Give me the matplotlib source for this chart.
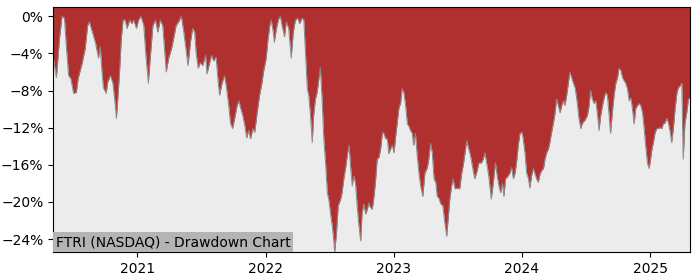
import pandas as pd
import matplotlib
matplotlib.use("Agg")
import matplotlib.pyplot as plt
import matplotlib.ticker as mtick
import matplotlib.dates as mdates

ticker_label = "FTRI (NASDAQ) - Drawdown Chart"

# drawdown from running peak, in percent
dates = [
    "2020-05-06", "2020-05-15", "2020-05-24", "2020-05-31", "2020-06-07", "2020-06-12",
    "2020-06-19", "2020-06-25", "2020-07-03", "2020-07-11", "2020-07-16", "2020-07-27",
    "2020-08-05", "2020-08-12", "2020-08-17", "2020-08-24", "2020-09-03", "2020-09-12",
    "2020-09-17", "2020-09-22", "2020-09-26", "2020-10-04", "2020-10-08", "2020-10-16",
    "2020-10-23", "2020-10-28", "2020-11-02", "2020-11-06", "2020-11-11", "2020-11-16",
    "2020-11-21", "2020-11-27", "2020-12-02", "2020-12-10", "2020-12-16", "2020-12-21",
    "2020-12-29",
    "2021-01-04", "2021-01-11", "2021-01-19", "2021-01-25", "2021-02-01", "2021-02-07",
    "2021-02-14", "2021-02-21", "2021-02-28", "2021-03-07", "2021-03-14", "2021-03-19",
    "2021-03-24", "2021-03-31", "2021-04-08", "2021-04-14", "2021-04-21", "2021-04-28",
    "2021-05-06", "2021-05-13", "2021-05-19", "2021-05-25", "2021-06-01", "2021-06-07",
    "2021-06-13", "2021-06-17", "2021-06-23", "2021-06-29", "2021-07-06", "2021-07-14",
    "2021-07-18", "2021-07-25", "2021-07-31", "2021-08-06", "2021-08-13", "2021-08-19",
    "2021-08-23", "2021-08-30", "2021-09-06", "2021-09-11", "2021-09-18", "2021-09-23",
    "2021-09-29", "2021-10-05", "2021-10-12", "2021-10-17", "2021-10-22", "2021-10-28",
    "2021-11-03", "2021-11-08", "2021-11-14", "2021-11-19", "2021-11-26", "2021-12-01",
    "2021-12-08", "2021-12-15", "2021-12-22", "2021-12-26",
    "2022-01-03", "2022-01-07", "2022-01-13", "2022-01-17", "2022-01-23", "2022-01-26",
    "2022-02-01", "2022-02-07", "2022-02-12", "2022-02-17", "2022-02-24", "2022-03-01",
    "2022-03-08", "2022-03-15", "2022-03-21", "2022-03-27", "2022-04-03", "2022-04-08",
    "2022-04-15", "2022-04-20", "2022-04-25", "2022-04-30", "2022-05-04", "2022-05-09",
    "2022-05-14", "2022-05-18", "2022-05-23", "2022-05-28", "2022-06-02", "2022-06-06",
    "2022-06-11", "2022-06-16", "2022-06-21", "2022-06-26", "2022-06-30", "2022-07-05",
    "2022-07-10", "2022-07-14", "2022-07-17", "2022-07-22", "2022-07-27", "2022-08-03",
    "2022-08-07", "2022-08-12", "2022-08-18", "2022-08-23", "2022-08-27", "2022-08-31",
    "2022-09-05", "2022-09-09", "2022-09-14", "2022-09-19", "2022-09-24", "2022-09-29",
    "2022-10-03", "2022-10-08", "2022-10-13", "2022-10-18", "2022-10-22", "2022-10-27",
    "2022-11-01", "2022-11-06", "2022-11-10", "2022-11-15", "2022-11-20", "2022-11-25",
    "2022-11-30", "2022-12-04", "2022-12-09", "2022-12-14", "2022-12-18", "2022-12-23",
    "2022-12-28",
    "2023-01-02", "2023-01-06", "2023-01-11", "2023-01-16", "2023-01-21", "2023-01-25",
    "2023-01-30", "2023-02-04", "2023-02-09", "2023-02-13", "2023-02-18", "2023-02-23",
    "2023-02-27", "2023-03-04", "2023-03-09", "2023-03-14", "2023-03-19", "2023-03-25",
    "2023-03-31", "2023-04-07", "2023-04-11", "2023-04-16", "2023-04-21", "2023-04-26",
    "2023-05-01", "2023-05-05", "2023-05-10", "2023-05-15", "2023-05-21", "2023-05-27",
    "2023-06-01", "2023-06-06", "2023-06-10", "2023-06-15", "2023-06-19", "2023-06-25",
    "2023-07-01", "2023-07-08", "2023-07-14", "2023-07-18", "2023-07-23", "2023-07-28",
    "2023-08-03", "2023-08-08", "2023-08-13", "2023-08-20", "2023-08-25", "2023-09-01",
    "2023-09-08", "2023-09-13", "2023-09-18", "2023-09-23", "2023-09-29", "2023-10-06",
    "2023-10-12", "2023-10-18", "2023-10-23", "2023-10-28", "2023-11-02", "2023-11-07",
    "2023-11-11", "2023-11-16", "2023-11-23", "2023-11-28", "2023-12-03", "2023-12-08",
    "2023-12-13", "2023-12-17", "2023-12-22", "2023-12-27",
    "2024-01-02", "2024-01-05", "2024-01-10", "2024-01-15", "2024-01-20", "2024-01-24",
    "2024-01-29", "2024-02-03", "2024-02-07", "2024-02-12", "2024-02-17", "2024-02-22",
    "2024-02-27", "2024-03-03", "2024-03-07", "2024-03-12", "2024-03-17", "2024-03-21",
    "2024-03-26", "2024-03-31", "2024-04-05", "2024-04-09", "2024-04-14", "2024-04-19",
    "2024-04-24", "2024-04-29", "2024-05-03", "2024-05-08", "2024-05-13", "2024-05-17",
    "2024-05-22", "2024-05-27", "2024-06-01", "2024-06-07", "2024-06-12", "2024-06-17",
    "2024-06-22", "2024-06-29", "2024-07-06", "2024-07-11", "2024-07-15", "2024-07-20",
    "2024-07-25", "2024-07-30", "2024-08-04", "2024-08-08", "2024-08-13", "2024-08-18",
    "2024-08-22", "2024-08-27", "2024-09-01", "2024-09-06", "2024-09-10", "2024-09-15",
    "2024-09-20", "2024-09-25", "2024-09-30", "2024-10-04", "2024-10-09", "2024-10-14",
    "2024-10-18", "2024-10-23", "2024-10-28", "2024-11-02", "2024-11-07", "2024-11-11",
    "2024-11-16", "2024-11-21", "2024-11-26", "2024-11-30", "2024-12-05", "2024-12-10",
    "2024-12-14", "2024-12-19", "2024-12-24", "2024-12-29",
    "2025-01-02", "2025-01-06", "2025-01-10", "2025-01-15", "2025-01-20", "2025-01-24",
    "2025-01-29", "2025-02-03", "2025-02-07", "2025-02-12", "2025-02-17", "2025-02-22",
    "2025-02-27", "2025-03-03", "2025-03-08", "2025-03-13", "2025-03-18", "2025-03-22",
    "2025-03-27", "2025-04-01", "2025-04-05", "2025-04-10", "2025-04-15", "2025-04-20",
    "2025-04-25",
]

drawdown = [
    -4.4, -6.6, -2.4, 0.0, -0.2, -3.1,
    -6.4, -6.7, -8.3, -8.2, -6.7, -5.1,
    -3.5, -1.0, -0.6, -1.5, -2.8, -4.5,
    -3.3, -6.0, -7.7, -8.3, -7.1, -6.4,
    -7.2, -8.9, -11.0, -8.9, -6.0, -2.4,
    -0.4, -0.4, -1.3, -0.4, -0.8, -0.4,
    -1.3,
    -0.4, 0.0, -1.0, -4.2, -7.2, -4.2,
    -1.0, -0.4, -1.7, -0.4, -1.0, -3.5,
    -6.0, -4.5, -3.5, -2.4, -1.0, -0.6,
    0.0, -1.7, -3.5, -5.3, -2.8, -1.3,
    -1.7, -3.9, -5.6, -5.0, -5.3, -4.2,
    -6.2, -5.1, -4.2, -4.8, -4.4, -7.1,
    -8.5, -7.2, -6.4, -7.5, -9.6, -11.5,
    -12.1, -11.0, -9.6, -9.1, -9.9, -10.7,
    -11.8, -13.1, -12.3, -13.2, -12.1, -12.5,
    -10.4, -8.5, -7.1, -6.0,
    -4.5, -2.8, -1.0, -0.4, -1.7, -2.8,
    -1.3, -0.3, 0.0, -1.0, -2.2, -0.6,
    -1.3, -4.5, -1.7, -0.4, -0.2, -0.8,
    -0.2, -0.4, -4.2, -7.8, -8.5, -10.7,
    -13.6, -10.7, -8.9, -8.2, -6.7, -5.5,
    -8.9, -13.2, -15.8, -19.0, -19.7, -21.2,
    -22.6, -24.0, -25.4, -23.4, -20.4, -19.7,
    -19.0, -17.5, -16.1, -14.7, -13.9, -16.1,
    -18.3, -17.2, -17.9, -20.4, -22.6, -24.2,
    -21.2, -20.2, -21.3, -20.8, -20.1, -20.6,
    -20.8, -19.4, -17.9, -15.4, -15.2, -14.3,
    -12.5, -12.6, -13.2, -13.2, -14.8, -14.3,
    -13.9,
    -14.7, -13.2, -11.5, -9.9, -9.3, -7.8,
    -8.2, -9.6, -11.6, -11.8, -12.3, -12.6,
    -13.9, -12.6, -15.0, -16.9, -18.3, -19.4,
    -16.9, -16.3, -15.4, -13.7, -14.7, -17.5,
    -17.9, -19.4, -19.6, -20.2, -20.4, -22.3,
    -23.7, -21.5, -19.7, -18.3, -17.5, -18.6,
    -18.5, -18.6, -16.9, -16.1, -14.8, -13.4,
    -14.3, -15.0, -16.1, -17.5, -16.9, -15.8,
    -15.8, -15.4, -14.7, -15.8, -17.2, -19.7,
    -17.9, -15.8, -17.2, -18.3, -19.0, -18.0,
    -19.4, -17.5, -17.2, -16.9, -16.3, -17.5,
    -16.9, -15.8, -13.9, -12.6,
    -12.5, -13.2, -14.7, -16.9, -17.5, -18.5,
    -17.2, -16.4, -16.9, -17.5, -17.9, -17.0,
    -16.6, -16.4, -15.4, -14.7, -14.3, -13.6,
    -12.5, -11.5, -10.4, -8.9, -9.6, -10.4,
    -9.6, -9.1, -9.6, -8.5, -7.1, -6.0,
    -6.6, -7.2, -7.7, -9.3, -11.0, -12.1,
    -11.5, -11.2, -10.7, -9.6, -8.0, -8.9,
    -9.4, -9.1, -10.7, -12.3, -10.7, -9.6,
    -8.9, -8.2, -8.5, -10.7, -12.6, -10.4,
    -8.5, -7.2, -6.6, -5.6, -5.8, -6.6,
    -6.9, -7.2, -7.8, -9.1, -8.8, -9.9,
    -11.6, -9.9, -9.6, -9.4, -9.6, -10.4,
    -11.8, -13.9, -15.8, -16.4,
    -15.4, -14.3, -13.6, -12.5, -12.1, -12.1,
    -12.0, -12.1, -11.6, -11.5, -11.0, -11.5,
    -12.5, -13.6, -12.1, -9.9, -8.3, -7.7,
    -7.5, -7.2, -15.4, -11.5, -10.4, -8.9,
    -8.8,
]

x = pd.to_datetime(dates)
y_top = 1

fig, ax = plt.subplots(figsize=(7, 2.8), dpi=100)
fig.subplots_adjust(left=0.076, right=0.986, bottom=0.1, top=0.975)

ax.set_facecolor("#ececec")
ax.fill_between(x, drawdown, y_top, color="#b03030", linewidth=0)
ax.plot(x, drawdown, color="#8a8a8a", linewidth=0.7)

ax.set_xlim(x[0], x[-1])
ax.set_ylim(min(drawdown), y_top)
ax.set_yticks([0, -4, -8, -12, -16, -20, -24])
ax.yaxis.set_major_formatter(mtick.PercentFormatter(decimals=0))
ax.xaxis.set_major_locator(mdates.YearLocator())
ax.xaxis.set_major_formatter(mdates.DateFormatter("%Y"))

ax.text(0.004, 0.012, ticker_label, transform=ax.transAxes, fontsize=10,
        ha="left", va="bottom",
        bbox=dict(facecolor="#b4b4b4", edgecolor="none", pad=2))

fig.savefig("out.png")
